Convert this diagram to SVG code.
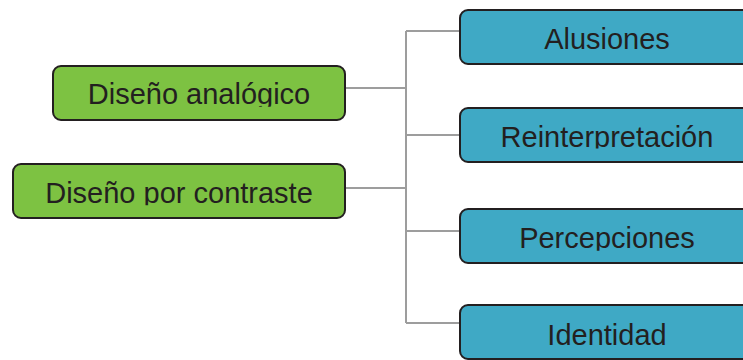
<svg xmlns="http://www.w3.org/2000/svg" width="743" height="360" viewBox="0 0 743 360">
<style>
.g{fill:#7dc242;stroke:#231f20;stroke-width:2}
.b{fill:#3fa9c5;stroke:#231f20;stroke-width:2}
.t{font-family:"Liberation Sans",Arial,Helvetica,sans-serif;font-size:29px;fill:#231f20;text-anchor:middle}
.c{fill:none;stroke:#9d9d9d;stroke-width:2}
</style>
<defs>
<clipPath id="c1"><rect x="0" y="0" width="743" height="106.8"/></clipPath>
<clipPath id="c2"><rect x="0" y="0" width="743" height="205.2"/></clipPath>
<clipPath id="c4"><rect x="0" y="0" width="743" height="148.6"/></clipPath>
<clipPath id="c5"><rect x="0" y="0" width="743" height="250.8"/></clipPath>
</defs>
<g id="connectors">
<path class="c" d="M346 88H406M346 188H406M406 31V323M406 31H460M406 135H460M406 231H460M406 323H460"/>
</g>
<g id="n-analogico">
<rect class="g" x="53" y="66" width="292" height="54" rx="8"/>
<text class="t" x="199" y="104.3" clip-path="url(#c1)">Diseño analógico</text>
</g>
<g id="n-contraste">
<rect class="g" x="13" y="164" width="332" height="54" rx="8"/>
<text class="t" x="179" y="202.7" clip-path="url(#c2)">Diseño por contraste</text>
</g>
<g id="n-alusiones">
<rect class="b" x="460" y="10" width="294" height="54" rx="8"/>
<text class="t" x="607" y="49">Alusiones</text>
</g>
<g id="n-reinterpretacion">
<rect class="b" x="460" y="108" width="294" height="54" rx="8"/>
<text class="t" x="607" y="146.7" clip-path="url(#c4)">Reinterpretación</text>
</g>
<g id="n-percepciones">
<rect class="b" x="460" y="209" width="294" height="54" rx="8"/>
<text class="t" x="607" y="248.3" clip-path="url(#c5)">Percepciones</text>
</g>
<g id="n-identidad">
<rect class="b" x="460" y="305" width="294" height="54" rx="8"/>
<text class="t" x="607" y="345">Identidad</text>
</g>
</svg>
